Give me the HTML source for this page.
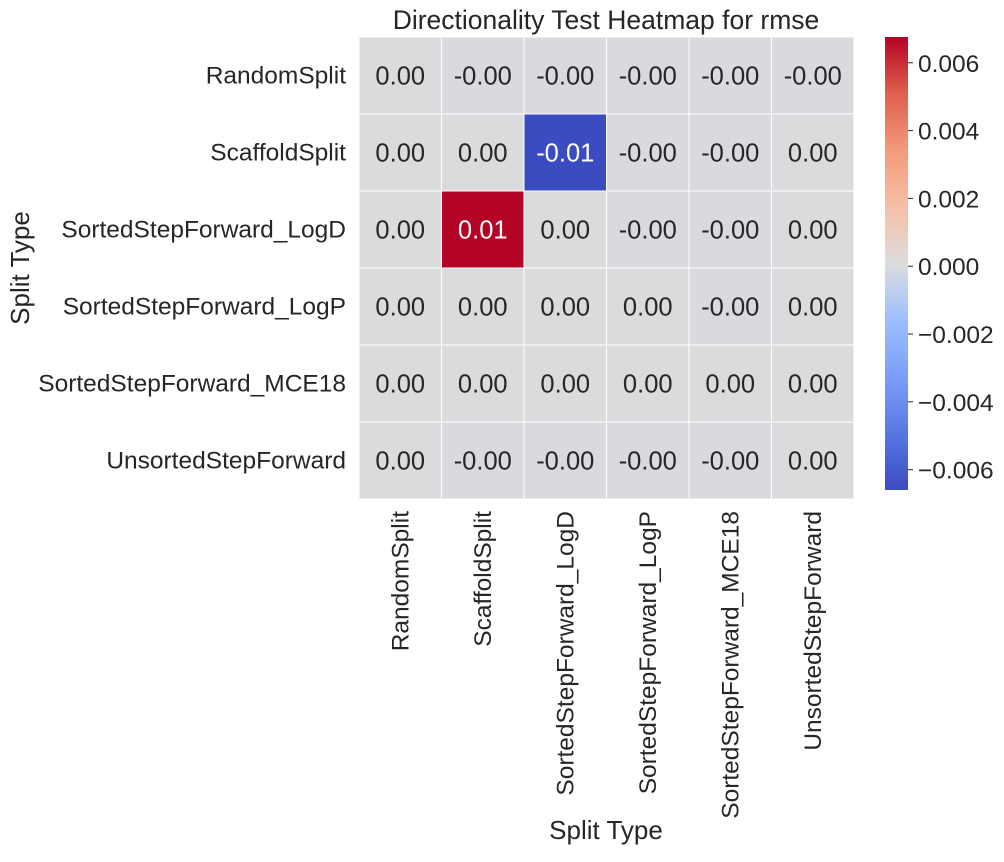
<!DOCTYPE html>
<html><head><meta charset="utf-8"><style>
body{margin:0;background:#fff;}
svg text{font-family:"Liberation Sans",Arial,sans-serif;fill:#262626;}
</style></head><body>
<svg id="c" width="1004" height="857" xmlns="http://www.w3.org/2000/svg">
<defs><linearGradient id="cw" x1="0" y1="1" x2="0" y2="0">
<stop offset="0" stop-color="#3b4cc0"/><stop offset="0.125" stop-color="#5977e3"/><stop offset="0.25" stop-color="#7b9ff9"/><stop offset="0.375" stop-color="#9ebeff"/><stop offset="0.5" stop-color="#dddddd"/><stop offset="0.625" stop-color="#f6bfa6"/><stop offset="0.75" stop-color="#f49a7b"/><stop offset="0.875" stop-color="#de604d"/><stop offset="1" stop-color="#b40426"/>
</linearGradient></defs>
</svg>
<script>
const labels=["RandomSplit","ScaffoldSplit","SortedStepForward_LogD","SortedStepForward_LogP","SortedStepForward_MCE18","UnsortedStepForward"];
const values=[
[0.00001,-0.00001,-0.00001,-0.00001,-0.00001,-0.00001],
[0.00001,0.00001,-0.0066,-0.00001,-0.00001,0.00001],
[0.00001,0.0068,0.00001,-0.00001,-0.00001,0.00001],
[0.00001,0.00001,0.00001,0.00001,-0.00001,0.00001],
[0.00001,0.00001,0.00001,0.00001,0.00001,0.00001],
[0.00001,-0.00001,-0.00001,-0.00001,-0.00001,0.00001]];
const cbTicks=[-0.006,-0.004,-0.002,0,0.002,0.004,0.006];
const vmin=-0.0066,vmax=0.00676;
const svg=document.getElementById('c');const NS='http://www.w3.org/2000/svg';
function mk(t,a,p){const e=document.createElementNS(NS,t);for(const k in a)e.setAttribute(k,a[k]);(p||svg).appendChild(e);return e;}
const L=359,T=37,W=495/6,H=77;
const xs=i=>L+i*W, ys=j=>T+j*H;
const stops=[[59,76,192],[89,119,227],[123,159,249],[158,190,255],[220,220,220],[246,191,166],[244,154,123],[222,96,77],[180,4,38]];
function col(v){let t=(v-vmin)/(vmax-vmin);t=Math.max(0,Math.min(1,t));const f=t*8,i=Math.min(7,Math.floor(f)),r=f-i;const a=stops[i],b=stops[i+1];
 return 'rgb('+a.map((c,k)=>Math.round(c+(b[k]-c)*r)).join(',')+')';}
values.forEach((row,j)=>row.forEach((v,i)=>{
 const r=mk('rect',{x:xs(i),y:ys(j),width:W,height:H,fill:col(v),stroke:'#fff','stroke-width':1});
 
 
 const t=mk('text',{x:xs(i)+W/2,y:ys(j)+H/2+9,'text-anchor':'middle','font-size':25.5});
 t.textContent=(v<0?'-':'')+Math.abs(v).toFixed(2);
 if(Math.abs(v)>0.004)t.style.fill='#fff';
 
 
}));
labels.forEach((s,j)=>{
 const t=mk('text',{x:346,y:ys(j)+H/2+8,'text-anchor':'end','font-size':24.5});t.textContent=s;
 
 
});
labels.forEach((s,i)=>{
 const x=xs(i)+W/2+8;
 const t=mk('text',{x:x,y:511,'text-anchor':'end','font-size':24.5,transform:'rotate(-90 '+x+' 511)'});t.textContent=s;
 
 
});
let t=mk('text',{x:606,y:29,'text-anchor':'middle','font-size':26.5});t.textContent='Directionality Test Heatmap for rmse';


t=mk('text',{x:606,y:839,'text-anchor':'middle','font-size':26});t.textContent='Split Type';


t=mk('text',{x:29,y:268,'text-anchor':'middle','font-size':26,transform:'rotate(-90 29 268)'});t.textContent='Split Type';


const CT=37,CB=490,CX=885,CW=23;
const cy=v=>CB-(v-vmin)/(vmax-vmin)*(CB-CT);
const cb=mk('rect',{x:CX,y:CT,width:CW,height:CB-CT,fill:'url(#cw)'});


cbTicks.forEach(v=>{
 const y=cy(v);
 mk('line',{x1:CX+CW,x2:CX+CW+5,y1:y,y2:y,stroke:'#262626','stroke-width':1});
 const tt=mk('text',{x:CX+CW+10,y:y+9,'font-size':24.5});
 tt.textContent=(v<0?'\u2212':'')+Math.abs(v).toFixed(3);
 
 
});
</script>
</body></html>
